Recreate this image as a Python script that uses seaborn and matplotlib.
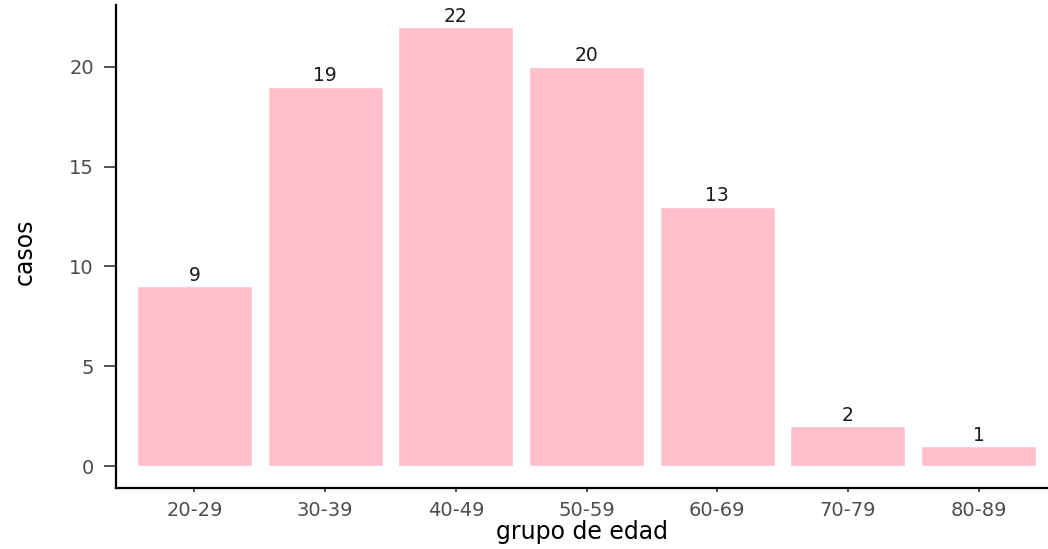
import matplotlib
matplotlib.use("Agg")
import matplotlib.pyplot as plt
import seaborn as sns
import pandas as pd

grupos = ["20-29", "30-39", "40-49", "50-59", "60-69", "70-79", "80-89"]
casos = [9, 19, 22, 20, 13, 2, 1]

sns.set_style("white")
plt.rcParams['font.family'] = ['DejaVu Sans']

df = pd.DataFrame({"grupo de edad": grupos, "casos": casos})

fig = plt.figure(figsize=(10.48, 5.49), dpi=100)
ax = fig.add_axes([0.1107, 0.1111, 0.898, 0.8798])

sns.barplot(data=df, x="grupo de edad", y="casos", color="#FFC0CB",
            saturation=1, width=0.88, ax=ax)

for c in ax.containers:
    ax.bar_label(c, labels=[str(v) for v in casos], padding=1,
                 fontsize=13.5, color="#1a1a1a")

ax.set_xlim(-0.6, 6.6)
ax.set_ylim(-1.1, 23.1)
ax.set_yticks([0, 5, 10, 15, 20])

for s in ["top", "right"]:
    ax.spines[s].set_visible(False)
for s in ["left", "bottom"]:
    ax.spines[s].set_color("black")
    ax.spines[s].set_linewidth(1.6)

ax.tick_params(axis="y", length=9, width=1.2, color="#333333",
               labelsize=14, labelcolor="#4D4D4D", pad=7, left=True)
ax.tick_params(axis="x", length=3, width=1.2, color="#333333",
               labelsize=14, labelcolor="#4D4D4D", pad=6, bottom=True)

ax.set_xlabel("grupo de edad", fontsize=17, color="black")
ax.set_ylabel("casos", fontsize=17, color="black")
ax.xaxis.set_label_coords(0.495, -0.091)
ax.xaxis.label.set_verticalalignment("center")
ax.yaxis.set_label_coords(-0.097, 0.49)
ax.yaxis.label.set_verticalalignment("center")

fig.savefig("out.png", dpi=100)
